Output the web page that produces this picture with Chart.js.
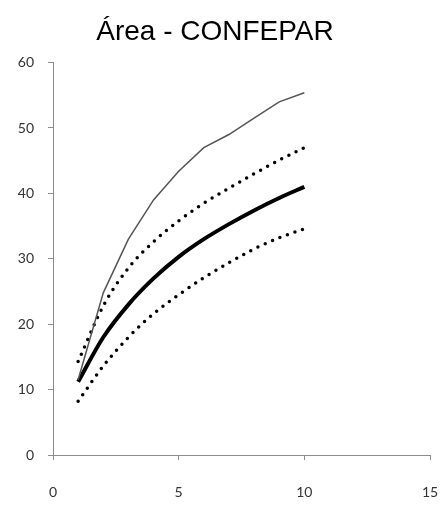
<!DOCTYPE html>
<html>
<head>
<meta charset="utf-8">
<script src="https://cdn.jsdelivr.net/npm/chart.js@4/dist/chart.umd.min.js"></script>
<style>
  body { margin: 0; background: #fff; }
</style>
</head>
<body>
<canvas id="chart" width="442" height="509"></canvas>
<script>
// samples (x) and the four curves
const samples = [1, 2, 3, 4, 5, 6, 7, 8, 9, 10];
const estimator = [11.5, 24.8, 33.0, 39.0, 43.4, 47.0, 49.0, 51.5, 54.0, 55.4];
const upperBound = [14.3, 22.8, 28.6, 32.6, 35.8, 38.5, 40.8, 43.0, 45.1, 47.0];
const observed = [11.2, 18.0, 23.0, 27.0, 30.3, 33.0, 35.3, 37.4, 39.3, 41.0];
const lowerBound = [8.2, 13.6, 18.0, 21.6, 24.5, 27.1, 29.4, 31.5, 33.2, 34.6];

const xTicks = [0, 5, 10, 15];
const yTicks = [0, 10, 20, 30, 40, 50, 60];

function toPoints(values) {
    return samples.map((x, i) => ({ x: x, y: values[i] }));
}

const dotted = {
    borderColor: '#000',
    borderWidth: 3.5,
    borderDash: [0, 8],
    borderCapStyle: 'round',
    pointRadius: 0,
    cubicInterpolationMode: 'monotone'
};

const axisColor = '#8c8c8c';
const tickFont = { family: 'Lato', size: 14 };

new Chart(document.getElementById('chart'), {
    type: 'line',
    data: {
        datasets: [
            {
                label: 'estimator',
                data: toPoints(estimator),
                borderColor: '#555',
                borderWidth: 1.5,
                pointRadius: 0,
                tension: 0
            },
            Object.assign({ label: 'upper', data: toPoints(upperBound) }, dotted),
            {
                label: 'observed',
                data: toPoints(observed),
                borderColor: '#000',
                borderWidth: 4,
                pointRadius: 0,
                cubicInterpolationMode: 'monotone'
            },
            Object.assign({ label: 'lower', data: toPoints(lowerBound) }, dotted)
        ]
    },
    options: {
        responsive: false,
        animation: false,
        layout: { padding: { left: 0, right: 12, top: 0, bottom: 0 } },
        plugins: {
            legend: { display: false },
            tooltip: { enabled: false },
            title: {
                display: true,
                text: 'Área - CONFEPAR',
                color: '#000',
                font: { family: 'Liberation Sans', size: 28, weight: 'normal' },
                padding: { top: 15, bottom: 14 }
            }
        },
        scales: {
            x: {
                type: 'linear',
                min: 0,
                max: 15,
                afterBuildTicks: s => { s.ticks = xTicks.map(v => ({ value: v })); },
                afterFit: s => { s.height = 54; s.paddingRight = 0; s.paddingLeft = 0; },
                grid: { drawOnChartArea: false, drawTicks: true, tickLength: 5, color: axisColor },
                border: { color: axisColor, width: 1 },
                ticks: { color: '#333', font: tickFont, padding: 24, maxRotation: 0 }
            },
            y: {
                min: 0,
                max: 60,
                afterBuildTicks: s => { s.ticks = yTicks.map(v => ({ value: v })); },
                afterFit: s => { s.width = 53; s.paddingTop = 0; s.paddingBottom = 0; },
                grid: { drawOnChartArea: false, drawTicks: true, tickLength: 5, color: axisColor },
                border: { color: axisColor, width: 1 },
                ticks: { color: '#333', font: tickFont, padding: 14 }
            }
        }
    }
});
</script>
</body>
</html>
